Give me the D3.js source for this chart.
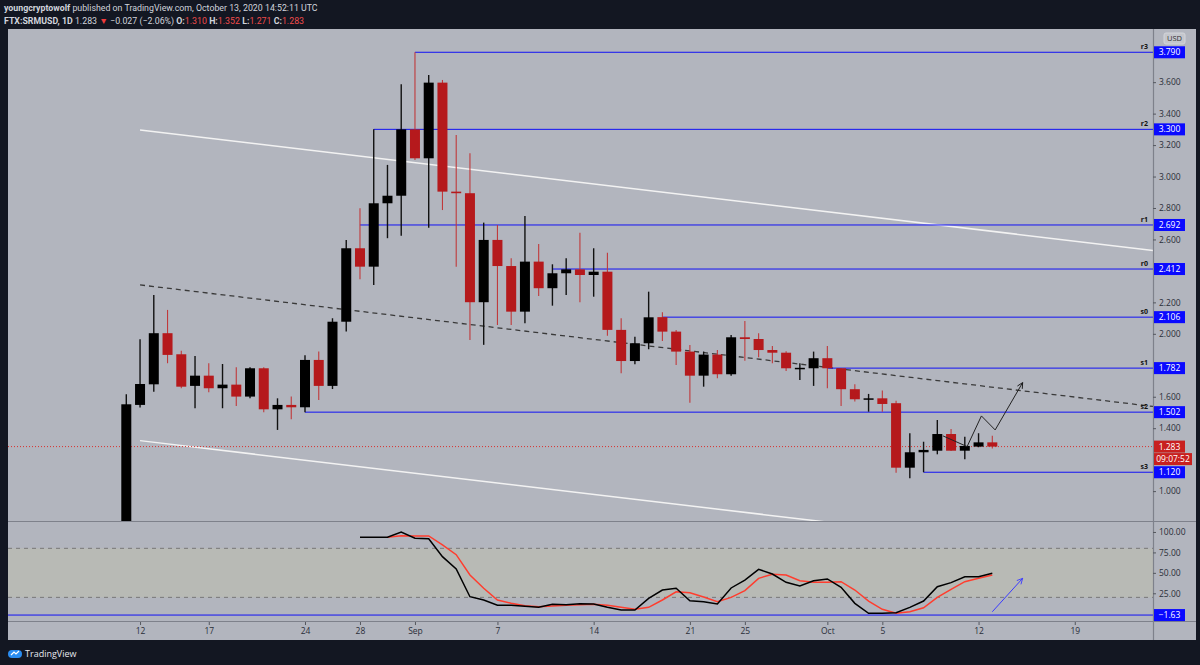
<!DOCTYPE html>
<html><head><meta charset="utf-8">
<script src="https://cdn.jsdelivr.net/npm/d3@7"></script>
<style>html,body{margin:0;padding:0;background:#131722;overflow:hidden}</style>
</head><body><svg id="c" width="1200" height="665"></svg>
<script>
// ---------- DATA ----------
const dates = ["2020-08-11","2020-08-12","2020-08-13","2020-08-14","2020-08-15","2020-08-16","2020-08-17","2020-08-18","2020-08-19","2020-08-20",
"2020-08-21","2020-08-22","2020-08-23","2020-08-24","2020-08-25","2020-08-26","2020-08-27","2020-08-28","2020-08-29","2020-08-30","2020-08-31",
"2020-09-01","2020-09-02","2020-09-03","2020-09-04","2020-09-05","2020-09-06","2020-09-07","2020-09-08","2020-09-09","2020-09-10",
"2020-09-11","2020-09-12","2020-09-13","2020-09-14","2020-09-15","2020-09-16","2020-09-17","2020-09-18","2020-09-19","2020-09-20",
"2020-09-21","2020-09-22","2020-09-23","2020-09-24","2020-09-25","2020-09-26","2020-09-27","2020-09-28","2020-09-29","2020-09-30",
"2020-10-01","2020-10-02","2020-10-03","2020-10-04","2020-10-05","2020-10-06","2020-10-07","2020-10-08","2020-10-09","2020-10-10",
"2020-10-11","2020-10-12","2020-10-13"];
const open  = [0.600,1.548,1.679,2.004,1.870,1.669,1.734,1.654,1.677,1.601,1.781,1.520,1.548,1.533,1.834,1.669,2.077,2.544,2.427,2.830,2.878,
3.300,3.116,3.597,2.904,2.894,2.201,2.597,2.431,2.141,2.459,2.290,2.385,2.410,2.374,2.395,2.025,1.827,1.940,2.106,2.014,
1.887,1.734,1.868,1.743,1.978,1.967,1.897,1.880,1.778,1.781,1.845,1.781,1.648,1.584,1.590,1.559,1.149,1.247,1.257,1.363,1.257,1.283,1.310];
const high  = [1.616,1.965,2.247,2.152,1.893,1.859,1.813,1.808,1.787,1.787,1.787,1.590,1.601,1.864,1.887,2.099,2.597,2.798,3.300,3.074,3.587,
3.790,3.646,3.614,3.264,3.148,2.707,2.692,2.480,2.749,2.571,2.442,2.480,2.643,2.544,2.516,2.099,1.982,2.268,2.137,2.025,
1.929,1.887,1.897,1.993,2.082,2.004,1.923,1.890,1.813,1.887,1.923,1.783,1.679,1.618,1.639,1.575,1.368,1.314,1.452,1.395,1.346,1.368,1.352];
const low   = [0.550,1.531,1.632,1.813,1.654,1.527,1.629,1.527,1.541,1.590,1.501,1.389,1.457,1.502,1.580,1.649,2.014,2.347,2.311,2.608,2.624,
3.105,2.675,2.787,2.427,1.961,1.930,2.056,2.056,2.067,2.241,2.179,2.247,2.201,2.236,1.988,1.749,1.806,1.902,1.955,1.802,
1.562,1.664,1.718,1.734,1.829,1.851,1.813,1.764,1.707,1.669,1.654,1.541,1.569,1.505,1.505,1.117,1.082,1.120,1.234,1.255,1.203,1.279,1.271];
const close = [1.552,1.681,2.004,1.866,1.664,1.734,1.654,1.677,1.601,1.781,1.520,1.548,1.533,1.834,1.669,2.077,2.544,2.427,2.830,2.878,3.300,
3.116,3.597,2.904,2.894,2.201,2.597,2.431,2.141,2.459,2.290,2.385,2.410,2.374,2.395,2.025,1.827,1.940,2.105,2.014,1.887,
1.734,1.868,1.743,1.978,1.967,1.897,1.880,1.781,1.784,1.845,1.781,1.648,1.584,1.590,1.554,1.149,1.247,1.262,1.363,1.257,1.287,1.310,1.283];

const levels      = [3.790, 3.300, 2.692, 2.412, 2.106, 1.782, 1.502, 1.120];
const levelNames  = ["r3","r2","r1","r0","s0","s1","s2","s3"];
const levelStarts = ["2020-09-01","2020-08-29","2020-08-28","2020-09-11","2020-09-19","2020-10-01","2020-08-24","2020-10-08"];

const priceTicks = [3.6,3.4,3.2,3.0,2.8,2.6,2.2,2.0,1.6,1.4,1.0];
const stochTicks = [100,75,50,25];
const timeTickDates  = ["2020-08-12","2020-08-17","2020-08-24","2020-08-28","2020-09-01","2020-09-07","2020-09-14","2020-09-21","2020-09-25","2020-10-01","2020-10-05","2020-10-12","2020-10-19"];
const timeTickLabels = ["12","17","24","28","Sep","7","14","21","25","Oct","5","12","19"];

// trend lines (date, price)
const upperChannel = [["2020-08-12T00:00",3.296],["2020-10-25T00:00",2.527]];
const lowerChannel = [["2020-08-12T00:00",1.321],["2020-10-25T00:00",0.554]];
const dashedTrend  = [["2020-08-12T00:00",2.311],["2020-10-25T00:00",1.535]];
const projection   = [["2020-10-09T10:00",1.351],["2020-10-11T04:00",1.283],["2020-10-12T05:00",1.478],["2020-10-13T05:00",1.389],["2020-10-15T05:00",1.690]];

// stochastic
const kDates = dates.slice(17);
const kValues = [93.5,93.5,93.5,100,92.3,91.8,69.8,54.7,20.8,16.8,10.3,10.3,9.1,7.8,11.5,11.0,12.2,11.9,7.8,4.5,4.5,18.8,29.0,31.1,15.9,14.7,11.9,
31.5,41.2,54.3,48.6,38.4,33.9,40.4,42.5,32.3,12.7,0.5,0.5,1.2,7.8,15.5,33.0,38.0,45.3,45.3,49.4];
const dDates = dates.slice(19);
const dValues = [93.5,95.5,95.1,95.1,84.1,72.2,47.4,31.1,16.8,12.7,9.8,8.6,9.4,10.3,11.0,11.5,10.3,7.8,5.4,7.8,16.8,26.9,25.7,20.4,14.7,
20.0,28.2,43.3,48.2,47.4,40.4,38.4,38.4,39.2,29.0,15.5,5.4,0.5,2.4,7.3,20.0,29.9,39.2,43.3,47.4];
const stochLevel = -1.63;
const stochArrow = [["2020-10-13T00:00",2.4],["2020-10-15T05:00",43.3]];
const lastPrice = 1.283;

// ---------- SETUP ----------
const svg = d3.select("#c");
const parse = d3.utcParse("%Y-%m-%d");
const parseT = d3.utcParse("%Y-%m-%dT%H:%M");
const L = 8, R = 1153, TOP = 29, MAINB = 521, STT = 522, STB = 621, AXB = 640, RIGHT = 1196;
const x = d3.scaleUtc().domain([parse("2020-08-11"), parse("2020-10-13")]).range([126.3, 992.3]);
const y = d3.scaleLinear().domain([0.81, 3.938]).range([MAINB, TOP]);
const ys = d3.scaleLinear().domain([-8.9, 112.2]).range([STB, STT]);
const FONT = "'Open Sans','Noto Sans',sans-serif";
const BLUE = "#1111f5", RED = "#b5191c";

svg.append("rect").attr("width",1200).attr("height",665).attr("fill","#131722");
svg.append("rect").attr("x",L).attr("y",TOP).attr("width",RIGHT-L).attr("height",AXB-TOP).attr("fill","#b2b5be");

const defs = svg.append("defs");
defs.append("clipPath").attr("id","cm").append("rect").attr("x",L).attr("y",TOP).attr("width",R-L).attr("height",MAINB-TOP);
defs.append("clipPath").attr("id","cs").append("rect").attr("x",L).attr("y",STT).attr("width",R-L).attr("height",STB-STT);
const mk = defs.append("marker").attr("id","ah").attr("viewBox","0 0 10 10").attr("refX",9).attr("refY",5)
  .attr("markerWidth",7).attr("markerHeight",7).attr("orient","auto-start-reverse").attr("markerUnits","userSpaceOnUse");
mk.append("path").attr("d","M1,1 L9,5 L1,9").attr("fill","none").attr("stroke","#111").attr("stroke-width",1.2);
const mk2 = defs.append("marker").attr("id","ah2").attr("viewBox","0 0 10 10").attr("refX",9).attr("refY",5)
  .attr("markerWidth",7).attr("markerHeight",7).attr("orient","auto-start-reverse").attr("markerUnits","userSpaceOnUse");
mk2.append("path").attr("d","M1,1 L9,5 L1,9").attr("fill","none").attr("stroke","#3a3aff").attr("stroke-width",1.2);

// ---------- MAIN PANE ----------
const gm = svg.append("g").attr("clip-path","url(#cm)");
const line = d3.line().x(d=>x(parseT(d[0]))).y(d=>y(d[1]));

gm.append("path").attr("d",line(upperChannel)).attr("stroke","#f2f2f2").attr("stroke-width",1.5).attr("fill","none");
gm.append("path").attr("d",line(lowerChannel)).attr("stroke","#f2f2f2").attr("stroke-width",1.5).attr("fill","none");
gm.append("path").attr("d",line(dashedTrend)).attr("stroke","#3a3a3a").attr("stroke-width",1.3).attr("stroke-dasharray","5,4").attr("fill","none");

gm.append("line").attr("x1",L).attr("x2",R).attr("y1",y(lastPrice)).attr("y2",y(lastPrice))
  .attr("stroke","#d8322f").attr("stroke-width",1).attr("stroke-dasharray","1,2");

levels.forEach((lv,i)=>{
  gm.append("line").attr("x1",x(parse(levelStarts[i]))).attr("x2",R).attr("y1",y(lv)).attr("y2",y(lv))
    .attr("stroke",BLUE).attr("stroke-width",1);
  gm.append("text").attr("x",R-5).attr("y",y(lv)-3).attr("text-anchor","end").attr("font-size",7).attr("font-weight","bold")
    .attr("font-family",FONT).attr("fill","#111").text(levelNames[i]);
});

const cg = gm.append("g");
dates.forEach((d,i)=>{
  const cx = x(parse(d));
  const up = close[i] >= open[i];
  const col = up ? "#000" : RED;
  cg.append("line").attr("x1",cx).attr("x2",cx).attr("y1",y(high[i])).attr("y2",y(low[i]))
    .attr("stroke", up ? "#111" : "#c0393b").attr("stroke-width", up ? 1.4 : 1.1);
  const yt = y(Math.max(open[i],close[i])), yb = y(Math.min(open[i],close[i]));
  cg.append("rect").attr("x",cx-5).attr("width",10).attr("y",yt).attr("height",Math.max(1.5,yb-yt)).attr("fill",col);
});

gm.append("path").attr("d",line(projection)).attr("stroke","#222").attr("stroke-width",1).attr("fill","none")
  .attr("marker-end","url(#ah)");

// ---------- STOCH PANE ----------
const gs = svg.append("g").attr("clip-path","url(#cs)");
gs.append("rect").attr("x",L).attr("width",R-L).attr("y",ys(80)).attr("height",ys(20)-ys(80)).attr("fill","#b8bab5");
[80,20].forEach(v=>gs.append("line").attr("x1",L).attr("x2",R).attr("y1",ys(v)).attr("y2",ys(v))
  .attr("stroke","#787878").attr("stroke-width",1).attr("stroke-dasharray","4,4"));
gs.append("line").attr("x1",L).attr("x2",R).attr("y1",ys(stochLevel)).attr("y2",ys(stochLevel)).attr("stroke",BLUE).attr("stroke-width",1);
const sl = d3.line().x(d=>x(parse(d[0]))).y(d=>ys(d[1]));
gs.append("path").attr("d",sl(dDates.map((d,i)=>[d,dValues[i]]))).attr("stroke","#ff3d2e").attr("stroke-width",1.5).attr("fill","none");
gs.append("path").attr("d",sl(kDates.map((d,i)=>[d,kValues[i]]))).attr("stroke","#000").attr("stroke-width",1.5).attr("fill","none");
const sa = d3.line().x(d=>x(parseT(d[0]))).y(d=>ys(d[1]));
gs.append("path").attr("d",sa(stochArrow)).attr("stroke","#3a3aff").attr("stroke-width",1).attr("fill","none").attr("marker-end","url(#ah2)");

// ---------- SEPARATORS ----------
svg.append("line").attr("x1",L).attr("x2",RIGHT).attr("y1",MAINB+0.5).attr("y2",MAINB+0.5).attr("stroke","#7e818b").attr("stroke-width",1.2);
svg.append("line").attr("x1",L).attr("x2",RIGHT).attr("y1",STB+0.5).attr("y2",STB+0.5).attr("stroke","#7e818b").attr("stroke-width",1.2);
svg.append("line").attr("x1",R+0.5).attr("x2",R+0.5).attr("y1",TOP).attr("y2",AXB).attr("stroke","#7e818b").attr("stroke-width",1.2);

// ---------- AXES ----------
const pa = svg.append("g").attr("transform",`translate(${R},0)`)
  .call(d3.axisRight(y).tickValues(priceTicks).tickSize(3).tickPadding(3).tickFormat(d3.format(".3f")));
const sa2 = svg.append("g").attr("transform",`translate(${R},0)`)
  .call(d3.axisRight(ys).tickValues(stochTicks).tickSize(3).tickPadding(3).tickFormat(d3.format(".2f")));
const ta = svg.append("g").attr("transform",`translate(0,${STB+1})`)
  .call(d3.axisBottom(x).tickValues(timeTickDates.map(parse)).tickSize(3).tickPadding(3).tickFormat((d,i)=>timeTickLabels[i]));
[pa,sa2,ta].forEach(g=>{
  g.select(".domain").remove();
  g.selectAll(".tick line").attr("stroke","#55585f");
  g.selectAll(".tick text").attr("fill","#2a2e39").attr("font-size",8.5).attr("font-family",FONT);
});

function box(v, yy, fill, w, txt){
  svg.append("rect").attr("x",R+1).attr("y",yy-6).attr("width",w).attr("height",12).attr("fill",fill);
  svg.append("text").attr("x",R+1+w/2).attr("y",yy).attr("dy","0.35em").attr("text-anchor","middle")
    .attr("fill","#fff").attr("font-size",8.5).attr("font-family",FONT).text(txt);
}
levels.forEach(lv=>box(lv, y(lv), "#0a0aff", 31, d3.format(".3f")(lv)));
box(lastPrice, y(lastPrice), "#c8201f", 31, d3.format(".3f")(lastPrice));
box(0, y(lastPrice)+12.5, "#c8201f", 38, "09:07:52");
box(stochLevel, ys(stochLevel), "#0a0aff", 31, "\u22121.63");

svg.append("rect").attr("x",1164).attr("y",33).attr("width",21).attr("height",11).attr("rx",2).attr("fill","#c4c6cc").attr("stroke","#d3d5da");
svg.append("text").attr("x",1174.5).attr("y",38.5).attr("dy","0.35em").attr("text-anchor","middle").attr("font-size",7.5)
  .attr("font-family",FONT).attr("fill","#333").text("USD");

// ---------- HEADER ----------
const HF = "Roboto,'Liberation Sans',sans-serif";
const h1 = svg.append("text").attr("x",4).attr("y",11).attr("font-size",8.8).attr("font-family",HF).attr("fill","#d1d4dc");
h1.append("tspan").attr("font-weight","bold").text("youngcryptowolf");
h1.append("tspan").text(" published on TradingView.com, October 13, 2020 14:52:11 UTC");
const h2 = svg.append("text").attr("x",4).attr("y",23.5).attr("font-size",8.8).attr("font-family",HF).attr("fill","#d1d4dc");
const hdr = [["FTX:SRMUSD, 1D ","#d1d4dc","bold"],["1.283 ","#d1d4dc"],["\u25BC","#ef3b3b"],[" \u22120.027 (\u22122.06%) ","#d1d4dc"],
 ["O:","#d1d4dc","bold"],["1.310","#ef4b4b"],[" H:","#d1d4dc","bold"],["1.352","#ef4b4b"],[" L:","#d1d4dc","bold"],["1.271","#ef4b4b"],
 [" C:","#d1d4dc","bold"],["1.283","#ef4b4b"]];
hdr.forEach(t=>{const s=h2.append("tspan").attr("fill",t[1]).text(t[0]); if(t[2]) s.attr("font-weight",t[2]);});

// ---------- FOOTER ----------
const lg = svg.append("g").attr("transform","translate(8,648)");
lg.append("path").attr("d","M0,6 a4,4 0 0 1 4,-4 h6 a4,4 0 0 1 4,4 a4,4 0 0 1 -4,4 h-6 a4,4 0 0 1 -4,-4z").attr("fill","#2a8cf0");
lg.append("path").attr("d","M3,7 L6,4 L8,6 L11,3").attr("stroke","#fff").attr("stroke-width",1.2).attr("fill","none");
svg.append("text").attr("x",25).attr("y",656.5).attr("font-size",9).attr("font-family",FONT).attr("fill","#e6e8ee").text("TradingView");
</script></body></html>
